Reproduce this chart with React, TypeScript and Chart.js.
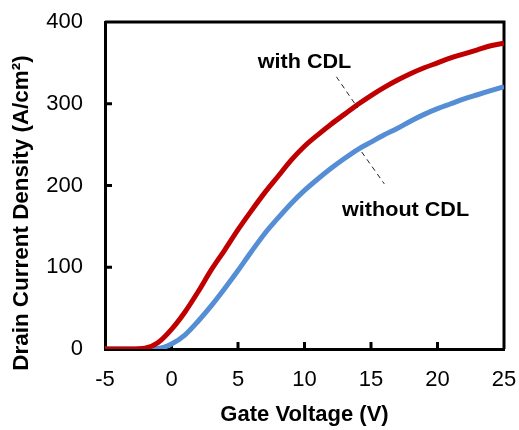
import React, { useEffect, useRef } from "react";
import { Chart, registerables } from "chart.js";

Chart.register(...registerables);

const gateVoltage = [-5, -4, -3, -2, -1, 0, 1, 2, 3, 4, 5, 6, 7, 8, 9, 10, 11, 12, 13, 14, 15, 16, 17, 18, 19, 20, 21, 22, 23, 24, 25];
const withCDL = [0, 0, 0, 1, 8, 24, 45, 70, 97, 121, 146, 169, 191, 211, 231, 248, 262, 275, 287, 299, 310, 320, 329, 337, 344, 350, 356, 361, 366, 371, 374];
const withoutCDL = [0, 0, 0, 0, 0.5, 6, 17, 34, 53, 74, 96, 119, 141, 160, 178, 194, 208, 221, 233, 244, 253, 262, 270, 279, 287, 294, 300, 306, 311, 316, 321];
const xTicks = [-5, 0, 5, 10, 15, 20, 25];
const yTicks = [0, 100, 200, 300, 400];
const labelTexts = ["with CDL", "without CDL"];
const labelAnchors = [[10.0, 351], [17.6, 169]];
const leaderLines = [[[12.4, 333], [14.0, 295]], [[14.3, 241], [16.0, 202]]];
const xTitle = "Gate Voltage (V)";
const yTitle = "Drain Current Density (A/cm²)";

const FONT = "'Liberation Sans', Arial, sans-serif";

const decorPlugin = {
  id: "decor",
  beforeDatasetsDraw(chart: any) {
    const { ctx, chartArea: a, scales } = chart;
    ctx.save();
    ctx.strokeStyle = "#000";
    ctx.lineWidth = 3;
    ctx.beginPath();
    ctx.moveTo(a.left, a.top);
    ctx.lineTo(a.right, a.top);
    ctx.lineTo(a.right, a.bottom);
    ctx.stroke();
    xTicks.forEach((v) => {
      if (v === xTicks[0] || v === xTicks[xTicks.length - 1]) return;
      const px = scales.x.getPixelForValue(v);
      ctx.beginPath();
      ctx.moveTo(px, a.bottom);
      ctx.lineTo(px, a.bottom - 7);
      ctx.stroke();
    });
    yTicks.forEach((v) => {
      if (v === yTicks[0] || v === yTicks[yTicks.length - 1]) return;
      const py = scales.y.getPixelForValue(v);
      ctx.beginPath();
      ctx.moveTo(a.left, py);
      ctx.lineTo(a.left + 7, py);
      ctx.stroke();
    });
    ctx.restore();
  },
  afterDraw(chart: any) {
    const { ctx, chartArea: a, scales } = chart;
    ctx.save();
    ctx.fillStyle = "#000";
    ctx.textAlign = "center";
    ctx.textBaseline = "middle";
    ctx.font = `bold 20px ${FONT}`;
    labelTexts.forEach((t, i) => {
      const px = scales.x.getPixelForValue(labelAnchors[i][0]);
      const py = scales.y.getPixelForValue(labelAnchors[i][1]);
      ctx.save();
      ctx.translate(px, py);
      ctx.scale(1.08, 1);
      ctx.fillText(t, 0, 0);
      ctx.restore();
    });
    ctx.strokeStyle = "#222";
    ctx.lineWidth = 1;
    ctx.setLineDash([5, 4]);
    leaderLines.forEach((ln) => {
      ctx.beginPath();
      ctx.moveTo(scales.x.getPixelForValue(ln[0][0]), scales.y.getPixelForValue(ln[0][1]));
      ctx.lineTo(scales.x.getPixelForValue(ln[1][0]), scales.y.getPixelForValue(ln[1][1]));
      ctx.stroke();
    });
    ctx.setLineDash([]);
    ctx.font = `bold 22px ${FONT}`;
    ctx.fillText(xTitle, (a.left + a.right) / 2, 415);
    ctx.save();
    ctx.translate(22, 213);
    ctx.rotate(-Math.PI / 2);
    ctx.scale(1.02, 1);
    ctx.fillText(yTitle, 0, 0);
    ctx.restore();
    ctx.restore();
  },
};

export default function App() {
  const ref = useRef<HTMLCanvasElement | null>(null);
  useEffect(() => {
    if (!ref.current) return;
    const chart = new Chart(ref.current, {
      type: "line",
      data: {
        labels: gateVoltage,
        datasets: [
          {
            label: "with CDL",
            data: gateVoltage.map((x, i) => ({ x, y: withCDL[i] })),
            borderColor: "#C00000",
            borderWidth: 5,
            pointRadius: 0,
            cubicInterpolationMode: "monotone",
            fill: false,
          },
          {
            label: "without CDL",
            data: gateVoltage.map((x, i) => ({ x, y: withoutCDL[i] })),
            borderColor: "#558ED5",
            borderWidth: 5,
            pointRadius: 0,
            cubicInterpolationMode: "monotone",
            fill: false,
          },
        ],
      },
      options: {
        animation: false,
        responsive: false,
        devicePixelRatio: 1,
        layout: { padding: { top: 22, right: 15, left: 0, bottom: 0 } },
        plugins: { legend: { display: false }, tooltip: { enabled: false } },
        scales: {
          x: {
            type: "linear",
            min: -5,
            max: 25,
            afterFit: (s: any) => { s.height = 81; s.paddingLeft = 0; s.paddingRight = 0; },
            afterBuildTicks: (s: any) => { s.ticks = xTicks.map((v) => ({ value: v })); },
            grid: { display: false, drawTicks: false },
            border: { display: true, color: "#000", width: 3 },
            ticks: { color: "#000", font: { family: FONT, size: 22 }, padding: 18, maxRotation: 0, autoSkip: false },
          },
          y: {
            type: "linear",
            min: 0,
            max: 400,
            afterFit: (s: any) => { s.width = 105; s.paddingTop = 0; s.paddingBottom = 0; },
            afterBuildTicks: (s: any) => { s.ticks = yTicks.map((v) => ({ value: v })); },
            grid: { display: false, drawTicks: false },
            border: { display: true, color: "#000", width: 3 },
            ticks: { color: "#000", font: { family: FONT, size: 22 }, padding: 22, autoSkip: false },
          },
        },
      },
      plugins: [decorPlugin],
    });
    return () => chart.destroy();
  }, []);
  return (
    <div style={{ position: "absolute", left: 0, top: 0, width: 519, height: 430, background: "#fff" }}>
      <canvas ref={ref} width={519} height={430} style={{ width: 519, height: 430 }} />
    </div>
  );
}
